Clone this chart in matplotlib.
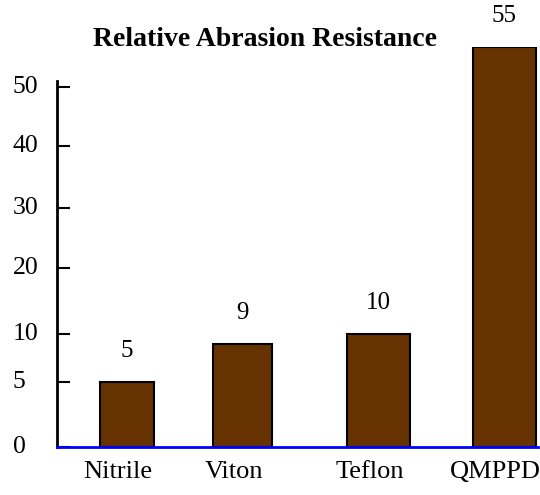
import numpy as np
import matplotlib
matplotlib.use("Agg")
import matplotlib.pyplot as plt
from matplotlib.transforms import ScaledTranslation

plt.rcParams['font.family'] = ['Liberation Serif', 'DejaVu Serif']

# data
materials = ["Nitrile", "Viton", "Teflon", "QMPPD"]
resistance = [5, 9, 10, 55]
value_labels = ["5", "9", "10", "55"]
ytick_values = [0, 5, 10, 20, 30, 40, 50]

# the original axis is hand drawn, not linear: value -> height above baseline (px)
knot_vals = np.array([0, 5, 10, 20, 30, 40, 50, 55])
knot_px = np.array([0, 65, 113, 179, 239, 301, 360, 400])

def fwd(v):
    return np.interp(v, knot_vals, knot_px)

def inv(p):
    return np.interp(p, knot_px, knot_vals)

W, H = 540, 495
fig = plt.figure(figsize=(5.4, 4.95), dpi=100)
ax = fig.add_axes([57 / W, 1 - 447 / H, (538 - 57) / W, 400 / H])
ax.set_yscale('function', functions=(fwd, inv))

xpos = [0, 0.93, 2.02, 3.03]
widths = [0.43, 0.47, 0.51, 0.51]
bars = ax.bar(xpos, resistance, width=widths, color="#663300",
              edgecolor="black", linewidth=1.5, zorder=2)

for b, lab in zip(bars, value_labels):
    ax.annotate(lab, (b.get_x() + b.get_width() / 2, b.get_height()),
                xytext=(0, 20), textcoords='offset pixels',
                ha='center', va='bottom', fontsize=18, annotation_clip=False)

ax.set_xlim(-0.56, 3.3)
ax.set_ylim(0, 55)

ax.spines['top'].set_visible(False)
ax.spines['right'].set_visible(False)
ax.spines['left'].set_linewidth(2)
ax.spines['left'].set_bounds(0, 50.7)
ax.spines['bottom'].set_color("#0000ff")
ax.spines['bottom'].set_linewidth(2)
ax.spines['bottom'].set_zorder(3)

ax.set_yticks(ytick_values)
ax.set_yticklabels([str(v) for v in ytick_values])
ax.tick_params(axis='y', direction='in', length=9, width=1.5,
               pad=32, labelsize=18.5)
for t in ax.get_yticklabels():
    t.set_horizontalalignment('left')
    t.set_verticalalignment('center')

ax.set_xticks(xpos)
ax.set_xticklabels(materials)
ax.tick_params(axis='x', length=0, pad=10, labelsize=19)
shift = ScaledTranslation(-9 / 100, 0, fig.dpi_scale_trans)
for t in ax.get_xticklabels():
    t.set_transform(t.get_transform() + shift)

fig.text(265 / W, 1 - 40 / H, "Relative Abrasion Resistance",
         ha='center', va='center', fontsize=20, fontweight='bold')

fig.savefig("out.png", dpi=100)
